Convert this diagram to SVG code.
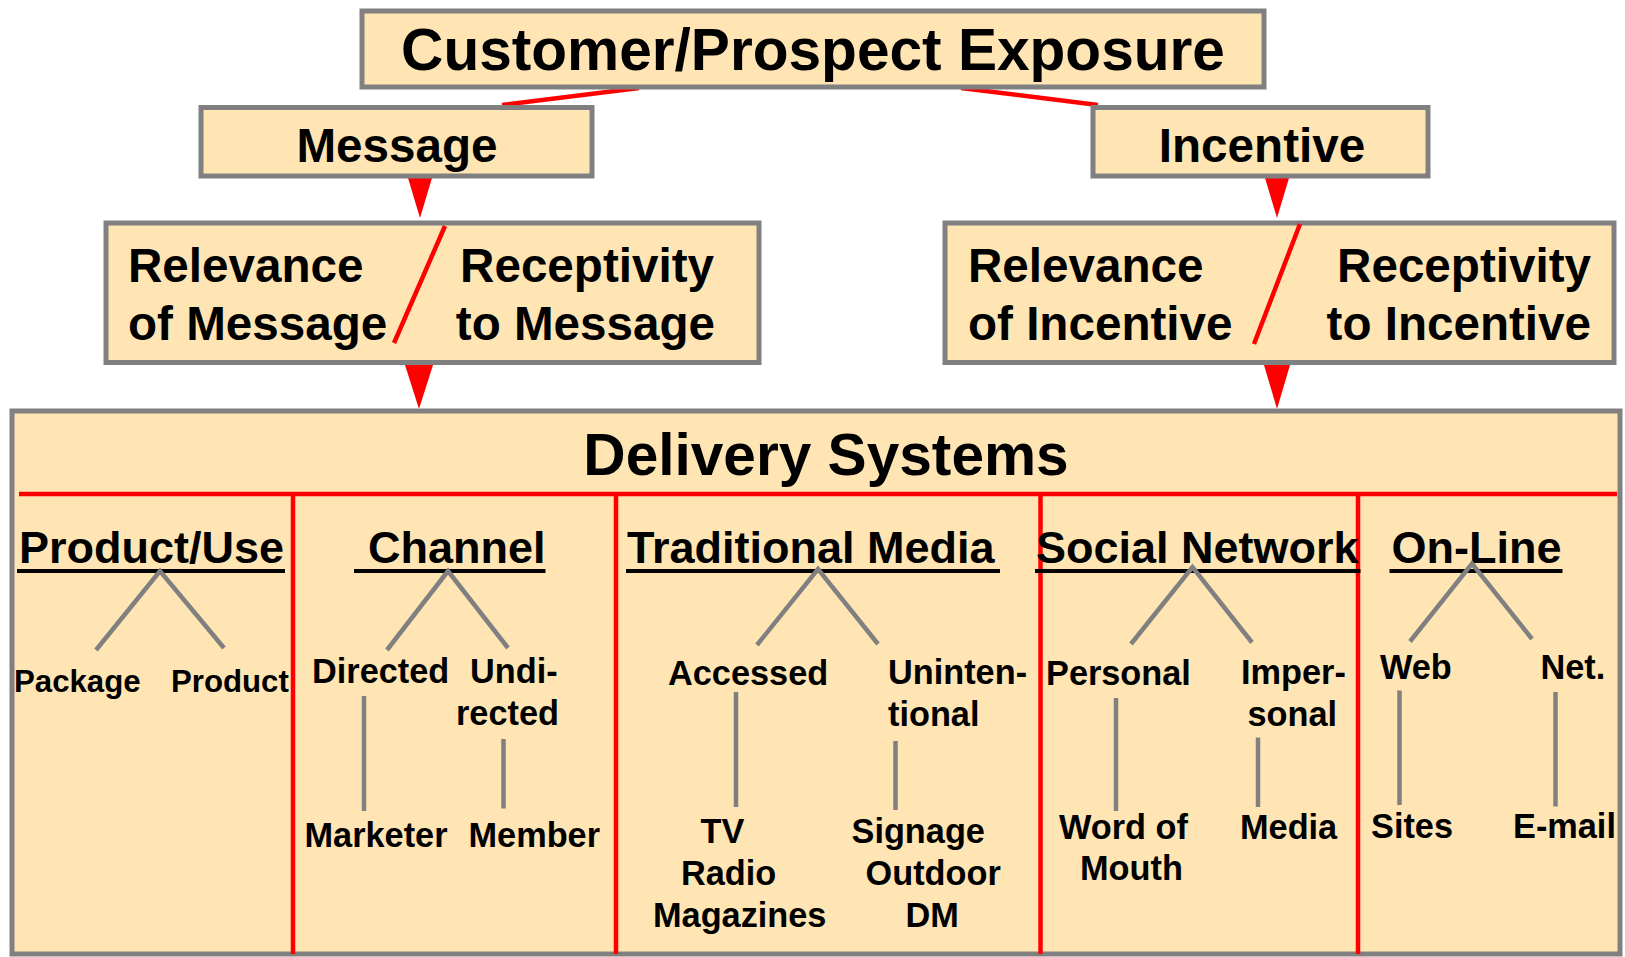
<svg xmlns="http://www.w3.org/2000/svg" width="1625" height="957" viewBox="0 0 1625 957">
<style>
.box{fill:#FFE5B4;stroke:#808080;stroke-width:5}
text{font-family:"Liberation Sans",Arial,sans-serif;font-weight:bold;fill:#000}
.t1{font-size:58.6px}
.t2{font-size:47.6px}
.t3{font-size:45px}
.t4{font-size:34.3px}
.t5{font-size:31.2px}
.red{stroke:#FF0000;stroke-width:4.5;fill:none}
.redf{fill:#FF0000}
.gray{stroke:#808080;stroke-width:4.5;fill:none}
.ul{fill:#000}
</style>
<rect width="1625" height="957" fill="#fff"/>
<g id="connectors">
<line class="red" x1="639" y1="88" x2="502" y2="105"/>
<line class="red" x1="961" y1="88" x2="1098" y2="105"/>
<polygon class="redf" points="408,178 432,178 420,218"/>
<polygon class="redf" points="405,365 433,365 419,409"/>
<polygon class="redf" points="1265,178 1289,178 1277,218"/>
<polygon class="redf" points="1264,365 1290,365 1277,409"/>
</g>
<g id="exposure">
<rect class="box" x="362" y="11" width="902" height="76"/>
<text class="t1" x="813" y="70" text-anchor="middle">Customer/Prospect Exposure</text>
</g>
<g id="message">
<rect class="box" x="201" y="107.5" width="391" height="68.5"/>
<text class="t2" x="397" y="162" text-anchor="middle">Message</text>
</g>
<g id="incentive">
<rect class="box" x="1093" y="107.5" width="335" height="68.5"/>
<text class="t2" x="1262" y="162" text-anchor="middle">Incentive</text>
</g>
<g id="relevance-message">
<rect class="box" x="106" y="223" width="653" height="139.5"/>
<text class="t2" x="128" y="282">Relevance</text>
<text class="t2" x="128" y="340">of Message</text>
<text class="t2" x="714" y="282" text-anchor="end">Receptivity</text>
<text class="t2" x="715" y="340" text-anchor="end">to Message</text>
<line class="red" x1="445" y1="226" x2="394" y2="343"/>
</g>
<g id="relevance-incentive">
<rect class="box" x="945" y="223" width="669" height="139.5"/>
<text class="t2" x="968" y="282">Relevance</text>
<text class="t2" x="968" y="340">of Incentive</text>
<text class="t2" x="1591" y="282" text-anchor="end">Receptivity</text>
<text class="t2" x="1591" y="340" text-anchor="end">to Incentive</text>
<line class="red" x1="1300" y1="224" x2="1254" y2="344"/>
</g>
<g id="delivery-systems">
<rect class="box" x="12" y="411" width="1608" height="543"/>
<text class="t1" x="826" y="475" text-anchor="middle">Delivery Systems</text>
<line class="red" x1="19" y1="494" x2="1617" y2="494"/>
<line class="red" x1="293" y1="494" x2="293" y2="954"/>
<line class="red" x1="616" y1="494" x2="616" y2="954"/>
<line class="red" x1="1040.5" y1="494" x2="1040.5" y2="954"/>
<line class="red" x1="1358" y1="494" x2="1358" y2="954"/>
</g>
<g id="product-use">
<text class="t3" x="19" y="563">Product/Use</text>
<rect class="ul" x="17" y="569" width="268" height="4"/>
<polyline class="gray" points="96,650 160,571 224,648"/>
<text class="t5" x="14" y="692">Package</text>
<text class="t5" x="171" y="692">Product</text>
</g>
<g id="channel">
<text class="t3" x="368" y="563">Channel</text>
<rect class="ul" x="354" y="569" width="191.5" height="4"/>
<polyline class="gray" points="387,650 448,571 508,648"/>
<text class="t4" x="312" y="683">Directed</text>
<text class="t4" x="470" y="683">Undi-</text>
<text class="t4" x="456" y="725">rected</text>
<line class="gray" x1="364" y1="696" x2="364" y2="811"/>
<line class="gray" x1="503.5" y1="739" x2="503.5" y2="808.5"/>
<text class="t4" x="304.5" y="847">Marketer</text>
<text class="t4" x="468.5" y="847">Member</text>
</g>
<g id="traditional-media">
<text class="t3" x="627" y="563">Traditional Media</text>
<rect class="ul" x="626" y="569" width="374" height="4"/>
<polyline class="gray" points="757,645 818,569 878,644"/>
<text class="t4" x="668" y="685">Accessed</text>
<text class="t4" x="888" y="684">Uninten-</text>
<text class="t4" x="888" y="726">tional</text>
<line class="gray" x1="736" y1="692" x2="736" y2="807"/>
<line class="gray" x1="895.5" y1="741" x2="895.5" y2="810"/>
<text class="t4" x="700.5" y="843">TV</text>
<text class="t4" x="681" y="885">Radio</text>
<text class="t4" x="653" y="927">Magazines</text>
<text class="t4" x="851.5" y="843">Signage</text>
<text class="t4" x="865.5" y="885">Outdoor</text>
<text class="t4" x="905.5" y="927">DM</text>
</g>
<g id="social-network">
<text class="t3" x="1036" y="563">Social Network</text>
<rect class="ul" x="1035" y="569" width="325.5" height="4"/>
<polyline class="gray" points="1131,644 1192.5,567 1252,642.5"/>
<text class="t4" x="1046" y="685">Personal</text>
<text class="t4" x="1241" y="684">Imper-</text>
<text class="t4" x="1247.5" y="726">sonal</text>
<line class="gray" x1="1116" y1="698" x2="1116" y2="811"/>
<line class="gray" x1="1258" y1="737.5" x2="1258" y2="807"/>
<text class="t4" x="1059" y="839">Word of</text>
<text class="t4" x="1080" y="880">Mouth</text>
<text class="t4" x="1240" y="839">Media</text>
</g>
<g id="on-line">
<text class="t3" x="1391.5" y="563">On-Line</text>
<rect class="ul" x="1389.5" y="569" width="173" height="4"/>
<polyline class="gray" points="1410,641.5 1472,563.5 1532,639"/>
<text class="t4" x="1380" y="679">Web</text>
<text class="t4" x="1540.5" y="679">Net.</text>
<line class="gray" x1="1399.5" y1="690.5" x2="1399.5" y2="805"/>
<line class="gray" x1="1555.5" y1="692" x2="1555.5" y2="806.5"/>
<text class="t4" x="1371" y="838">Sites</text>
<text class="t4" x="1513" y="838">E-mail</text>
</g>
</svg>
